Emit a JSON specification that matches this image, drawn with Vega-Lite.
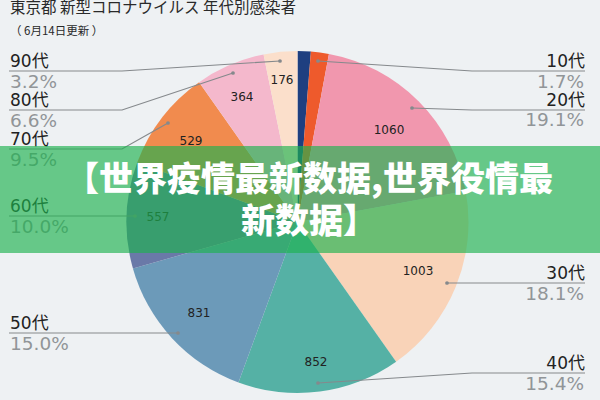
{
  "$schema": "https://vega.github.io/schema/vega-lite/v6.json",
  "width": 600,
  "height": 400,
  "padding": 0,
  "autosize": {"type": "fit", "contains": "padding"},
  "background": "#eef1f3",
  "view": {"stroke": null},
  "datasets": {
    "slices": [
      {"age": "10歳未満", "n": 69, "pos": 1, "lx": null, "ly": null},
      {"age": "10代", "n": 94, "pos": 2, "lx": null, "ly": null},
      {"age": "20代", "n": 1060, "pos": 3, "lx": 389, "ly": 130},
      {"age": "30代", "n": 1003, "pos": 4, "lx": 418, "ly": 271},
      {"age": "40代", "n": 852, "pos": 5, "lx": 316, "ly": 362},
      {"age": "50代", "n": 831, "pos": 6, "lx": 199, "ly": 313},
      {"age": "60代", "n": 557, "pos": 7, "lx": 158, "ly": 217},
      {"age": "70代", "n": 529, "pos": 8, "lx": 191, "ly": 141},
      {"age": "80代", "n": 364, "pos": 9, "lx": 242, "ly": 97},
      {"age": "90代", "n": 176, "pos": 10, "lx": 282, "ly": 80}
    ],
    "leaders": [
      {"age": "90代", "seq": 1, "x": 9, "y": 71},
      {"age": "90代", "seq": 2, "x": 122, "y": 71},
      {"age": "90代", "seq": 3, "x": 280, "y": 61},
      {"age": "80代", "seq": 1, "x": 9, "y": 110},
      {"age": "80代", "seq": 2, "x": 122, "y": 110},
      {"age": "80代", "seq": 3, "x": 233, "y": 73},
      {"age": "70代", "seq": 1, "x": 9, "y": 149},
      {"age": "70代", "seq": 2, "x": 122, "y": 149},
      {"age": "70代", "seq": 3, "x": 168, "y": 123},
      {"age": "60代", "seq": 1, "x": 9, "y": 216},
      {"age": "60代", "seq": 3, "x": 135, "y": 216},
      {"age": "50代", "seq": 1, "x": 9, "y": 333},
      {"age": "50代", "seq": 3, "x": 178, "y": 333},
      {"age": "10代", "seq": 1, "x": 585, "y": 71},
      {"age": "10代", "seq": 2, "x": 472, "y": 71},
      {"age": "10代", "seq": 3, "x": 318, "y": 61},
      {"age": "20代", "seq": 1, "x": 585, "y": 110},
      {"age": "20代", "seq": 2, "x": 472, "y": 110},
      {"age": "20代", "seq": 3, "x": 412, "y": 108},
      {"age": "30代", "seq": 1, "x": 585, "y": 283},
      {"age": "30代", "seq": 3, "x": 447, "y": 283},
      {"age": "40代", "seq": 1, "x": 585, "y": 373},
      {"age": "40代", "seq": 2, "x": 472, "y": 373},
      {"age": "40代", "seq": 3, "x": 318, "y": 383}
    ],
    "labels": [
      {"side": "left", "kind": "age", "x": 10, "y": 67, "text": "90代"},
      {"side": "left", "kind": "pct", "x": 10, "y": 88, "text": "3.2%"},
      {"side": "left", "kind": "age", "x": 10, "y": 106, "text": "80代"},
      {"side": "left", "kind": "pct", "x": 10, "y": 127, "text": "6.6%"},
      {"side": "left", "kind": "age", "x": 10, "y": 145, "text": "70代"},
      {"side": "left", "kind": "pct", "x": 10, "y": 166, "text": "9.5%"},
      {"side": "left", "kind": "age", "x": 10, "y": 212, "text": "60代"},
      {"side": "left", "kind": "pct", "x": 10, "y": 233, "text": "10.0%"},
      {"side": "left", "kind": "age", "x": 10, "y": 329, "text": "50代"},
      {"side": "left", "kind": "pct", "x": 10, "y": 350, "text": "15.0%"},
      {"side": "right", "kind": "age", "x": 585, "y": 67, "text": "10代"},
      {"side": "right", "kind": "pct", "x": 584, "y": 88, "text": "1.7%"},
      {"side": "right", "kind": "age", "x": 585, "y": 106, "text": "20代"},
      {"side": "right", "kind": "pct", "x": 584, "y": 126, "text": "19.1%"},
      {"side": "right", "kind": "age", "x": 585, "y": 279, "text": "30代"},
      {"side": "right", "kind": "pct", "x": 584, "y": 300, "text": "18.1%"},
      {"side": "right", "kind": "age", "x": 585, "y": 369, "text": "40代"},
      {"side": "right", "kind": "pct", "x": 584, "y": 390, "text": "15.4%"}
    ]
  },
  "encoding": {
    "x": {"type": "quantitative", "scale": {"domain": [0, 600]}, "axis": null},
    "y": {"type": "quantitative", "scale": {"domain": [0, 400], "reverse": true}, "axis": null}
  },
  "layer": [
    {
      "data": {"name": "slices"},
      "mark": {"type": "arc", "outerRadius": 171},
      "encoding": {
        "x": {"datum": 297.5, "type": "quantitative"},
        "y": {"datum": 222, "type": "quantitative"},
        "theta": {"field": "n", "type": "quantitative", "stack": true, "scale": {"range": [0, 6.2832]}},
        "order": {"field": "pos"},
        "color": {
          "field": "age",
          "type": "nominal",
          "legend": null,
          "scale": {
            "domain": ["10歳未満", "10代", "20代", "30代", "40代", "50代", "60代", "70代", "80代", "90代"],
            "range": ["#1e3f80", "#ee5a2c", "#f197ae", "#f9d3b8", "#55b1a5", "#6c9ab9", "#6a79a8", "#f18b4e", "#f4b8cc", "#fbdfcb"]
          }
        }
      }
    },
    {
      "data": {"name": "slices"},
      "transform": [{"filter": "datum.lx != null"}],
      "mark": {"type": "text", "font": "DejaVu Sans", "fontSize": 12, "fill": "#222222"},
      "encoding": {
        "x": {"field": "lx", "type": "quantitative"},
        "y": {"field": "ly", "type": "quantitative"},
        "text": {"field": "n", "type": "nominal"}
      }
    },
    {
      "data": {"name": "leaders"},
      "mark": {"type": "line", "stroke": "#85898c", "strokeWidth": 1.2},
      "encoding": {
        "x": {"field": "x", "type": "quantitative"},
        "y": {"field": "y", "type": "quantitative"},
        "detail": {"field": "age"},
        "order": {"field": "seq"}
      }
    },
    {
      "data": {"name": "leaders"},
      "transform": [{"filter": "datum.seq === 3"}],
      "mark": {"type": "point", "filled": true, "size": 14, "fill": "#85898c", "opacity": 1},
      "encoding": {
        "x": {"field": "x", "type": "quantitative"},
        "y": {"field": "y", "type": "quantitative"}
      }
    },
    {
      "data": {"name": "labels"},
      "transform": [{"filter": "datum.side === 'left'"}],
      "mark": {"type": "text", "align": "left", "baseline": "alphabetic", "font": "DejaVu Sans, Noto Sans CJK JP"},
      "encoding": {
        "x": {"field": "x", "type": "quantitative"},
        "y": {"field": "y", "type": "quantitative"},
        "text": {"field": "text"},
        "color": {"condition": {"test": "datum.kind === 'pct'", "value": "#919598"}, "value": "#222222"},
        "size": {"condition": {"test": "datum.kind === 'pct'", "value": 18.5}, "value": 17}
      }
    },
    {
      "data": {"name": "labels"},
      "transform": [{"filter": "datum.side === 'right'"}],
      "mark": {"type": "text", "align": "right", "baseline": "alphabetic", "font": "DejaVu Sans, Noto Sans CJK JP"},
      "encoding": {
        "x": {"field": "x", "type": "quantitative"},
        "y": {"field": "y", "type": "quantitative"},
        "text": {"field": "text"},
        "color": {"condition": {"test": "datum.kind === 'pct'", "value": "#919598"}, "value": "#222222"},
        "size": {"condition": {"test": "datum.kind === 'pct'", "value": 18.5}, "value": 17}
      }
    },
    {
      "data": {"values": [
        {"x": 10, "y": 13, "text": "東京都 新型コロナウイルス 年代別感染者", "kind": "title"},
        {"x": 10, "y": 35, "text": "（ 6月14日更新 ）", "kind": "sub"}
      ]},
      "mark": {"type": "text", "align": "left", "baseline": "alphabetic", "font": "Noto Sans CJK JP", "fill": "#2a2a2a"},
      "encoding": {
        "x": {"field": "x", "type": "quantitative"},
        "y": {"field": "y", "type": "quantitative"},
        "text": {"field": "text"},
        "size": {"condition": {"test": "datum.kind === 'sub'", "value": 11.5}, "value": 15.5}
      }
    },
    {
      "data": {"values": [{"x0": 0, "x1": 600, "y0": 146, "y1": 253}]},
      "mark": {"type": "rect", "fill": "#1db24e", "opacity": 0.65},
      "encoding": {
        "x": {"field": "x0", "type": "quantitative"},
        "x2": {"field": "x1"},
        "y": {"field": "y0", "type": "quantitative"},
        "y2": {"field": "y1"}
      }
    },
    {
      "data": {"values": [
        {"x": 309, "y": 191, "text": "【世界疫情最新数据,世界役情最"},
        {"x": 309, "y": 233, "text": "新数据】"}
      ]},
      "mark": {"type": "text", "align": "center", "baseline": "alphabetic", "font": "Noto Sans CJK SC", "fontWeight": 900, "fontSize": 34, "fill": "#ffffff"},
      "encoding": {
        "x": {"field": "x", "type": "quantitative"},
        "y": {"field": "y", "type": "quantitative"},
        "text": {"field": "text"}
      }
    }
  ]
}
